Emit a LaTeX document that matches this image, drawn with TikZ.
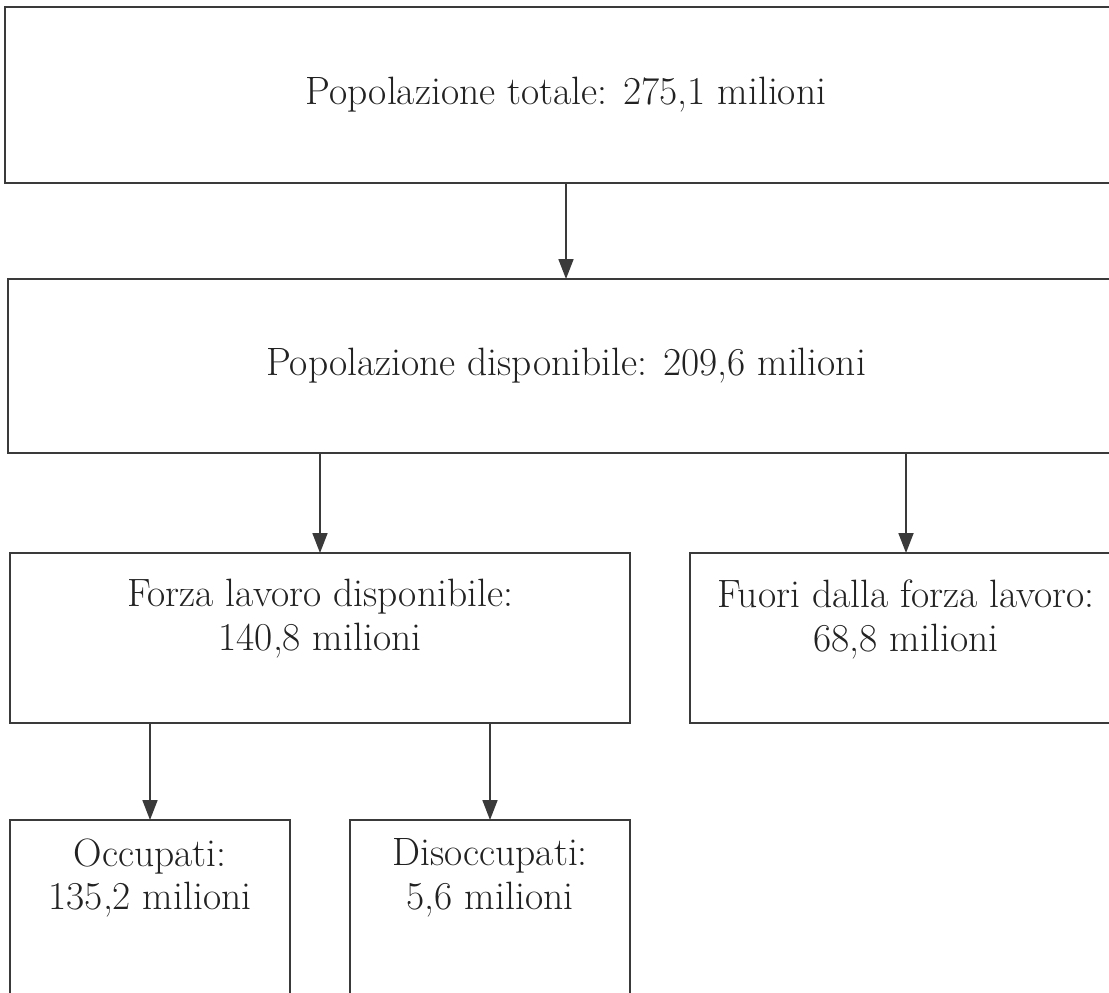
\documentclass[tikz,border=0pt]{standalone}
\usepackage{tikz}
\usetikzlibrary{arrows.meta,positioning}
\definecolor{popline}{HTML}{3A3A3A}
\definecolor{poptext}{HTML}{222222}

\begin{document}
\begin{tikzpicture}[
  x=0.02cm,y=-0.02cm,
  font=\fontsize{22.5}{25}\selectfont,
  box/.style={draw=popline,line width=1.1pt,inner sep=0pt,outer sep=0pt},
  lbl/.style={text=poptext,align=center,inner sep=0pt},
  ar/.style={-{Triangle[length=0.4cm,width=0.3cm]},popline,line width=1pt}]
\useasboundingbox (0,0) rectangle (1109,993);
\clip (0,0) rectangle (1109,993);
\node[box,minimum width=22.44cm,minimum height=3.52cm] (tot) at (566,95) {};
\node[box,minimum width=22.32cm,minimum height=3.48cm] (disp) at (566,366) {};
\node[box,minimum width=12.4cm,minimum height=3.4cm] (forza) at (320,638) {};
\node[box,minimum width=8.64cm,minimum height=3.4cm] (fuori) at (906,638) {};
\node[box,minimum width=5.6cm,minimum height=3.8cm] (occ) at (150,915) {};
\node[box,minimum width=5.6cm,minimum height=3.8cm] (dis) at (490,915) {};
\node[lbl] (tot-t) at (566,95) {Popolazione totale: 275,1 milioni};
\node[lbl] (disp-t) at (566,366) {Popolazione disponibile: 209,6 milioni};
\node[lbl] (forza-t) at (320,619) {Forza lavoro disponibile:\\140,8 milioni};
\node[lbl] (fuori-t) at (906,619) {Fuori dalla forza lavoro:\\68,8 milioni};
\node[lbl] (occ-t) at (150,878) {Occupati:\\135,2 milioni};
\node[lbl] (dis-t) at (490,878) {Disoccupati:\\5,6 milioni};
\draw[ar] (tot) -- (disp);
\draw[ar] (forza.north |- disp.south) -- (forza);
\draw[ar] (fuori.north |- disp.south) -- (fuori);
\draw[ar] (occ.north |- forza.south) -- (occ);
\draw[ar] (dis.north |- forza.south) -- (dis);
\end{tikzpicture}
\end{document}
